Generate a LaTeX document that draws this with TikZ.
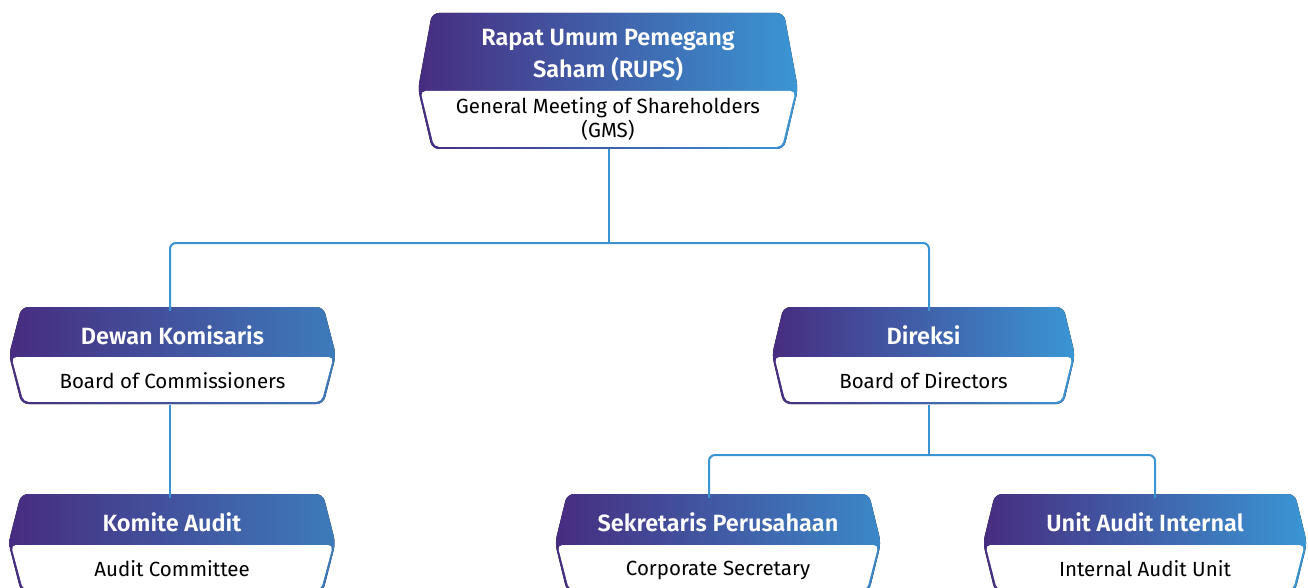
\documentclass[tikz,border=0pt]{standalone}
\usepackage{fontspec}
\setmainfont{Fira Sans}
\newfontfamily\headfont{Fira Sans SemiBold}
\usetikzlibrary{positioning}
\definecolor{ungu}{HTML}{472C80}
\definecolor{tengah}{HTML}{42529A}
\definecolor{biru}{HTML}{3A96D4}
\definecolor{biruredup}{HTML}{3D7BBB}
\definecolor{birusedang}{HTML}{3B88C8}
\definecolor{garis}{HTML}{3A93D3}
%% box outline: [right colour] cx, top, middle, bottom, half top width, half middle width
\newcommand{\orgshape}[7][biru]{%
  \fill[left color=ungu, middle color=tengah, right color=#1, rounded corners=7pt]
    ({#2-#6},#3) -- ({#2+#6},#3) -- ({#2+#7},#4) -- ({#2+#6},#5) -- ({#2-#6},#5) -- ({#2-#7},#4) -- cycle;
  \fill[white, rounded corners=5pt]
    ({#2-#7+2.5},{#4+2}) -- ({#2+#7-2.5},{#4+2}) -- ({#2+#6-2},{#5-2.2}) -- ({#2-#6+2},{#5-2.2}) -- cycle;}
\begin{document}
\begin{tikzpicture}[x=1pt, y=-1pt,
  head/.style={text=white, font=\headfont\fontsize{23.5}{32}\selectfont, align=center, inner sep=0pt},
  sub/.style={text=black, font=\fontsize{20.5}{24}\selectfont, align=center, inner sep=0pt},
  link/.style={draw=garis, line width=2pt, rounded corners=6pt}]
\useasboundingbox (0,0) rectangle (1308,588);
\clip (0,0) rectangle (1308,588);
%% shapes
\orgshape{608}{13}{89}{149}{176}{190}
\orgshape[biruredup]{172.5}{307}{355}{404}{151}{163.5}
\orgshape{923.5}{307}{355}{404}{140}{151.5}
\orgshape[biruredup]{172}{494}{543}{592}{151}{163.5}
\orgshape[birusedang]{718}{494}{543}{592}{151}{163}
\orgshape{1145}{494}{543}{592}{150}{162}
%% texts
\node[head, minimum height=76pt] (rups) at (608,55) {Rapat Umum Pemegang\\Saham (RUPS)};
\node[sub, minimum height=60pt] (gms) at (608,119) {General Meeting of Shareholders\\(GMS)};
\node[head, minimum height=48pt] (dewan) at (172.5,335) {Dewan Komisaris};
\node[sub, minimum height=49pt] (boc) at (172.5,380.5) {Board of Commissioners};
\node[head, minimum height=48pt] (direksi) at (923.5,335) {Direksi};
\node[sub, minimum height=49pt] (bod) at (923.5,380.5) {Board of Directors};
\node[head, minimum height=49pt] (komite) at (172,522.5) {Komite Audit};
\node[sub, minimum height=49pt] (ac) at (172,568.5) {Audit Committee};
\node[head, minimum height=49pt] (sekper) at (718,522.5) {Sekretaris Perusahaan};
\node[sub, minimum height=49pt, text depth=0pt] (cs) at (718,568.5) {Corporate Secretary};
\node[head, minimum height=49pt] (uai) at (1145,522.5) {Unit Audit Internal};
\node[sub, minimum height=49pt] (iau) at (1145,568.5) {Internal Audit Unit};
%% connectors
\coordinate (bus1) at (609,243);
\coordinate (bus2) at (929,455);
\draw[link] (bus1 |- gms.south) -- (bus1);
\draw[link] ([xshift=-2.5pt]dewan.north) |- (bus1) -| ([xshift=5.5pt]direksi.north);
\draw[link] ([xshift=-2.5pt]boc.south) -- ([xshift=-2pt]komite.north);
\draw[link] (bus2 |- bod.south) -- (bus2);
\draw[link] ([xshift=-9pt]sekper.north) |- (bus2) -| ([xshift=10pt]uai.north);
\end{tikzpicture}
\end{document}
